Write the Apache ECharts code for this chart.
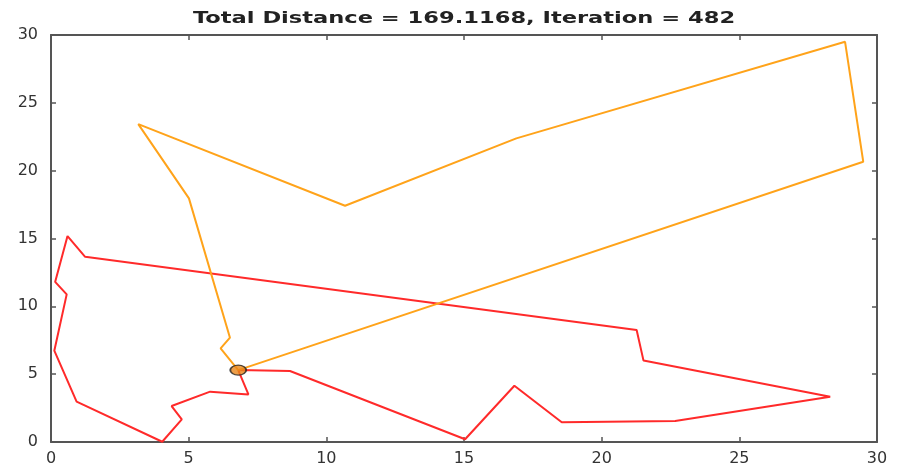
<!DOCTYPE html>
<html>
<head>
<meta charset="utf-8">
<script src="https://cdn.jsdelivr.net/npm/echarts@6/dist/echarts.min.js"></script>
<style>html,body{margin:0;padding:0;background:#fff}#c{width:899px;height:468px}</style>
</head>
<body>
<div id="c"></div>
<script>
const titleText = "Total Distance = 169.1168, Iteration = 482";
const depot = [6.8, 5.3];
const redX = [6.8, 8.68, 15.04, 16.83, 18.55, 22.67, 28.3, 21.52, 21.27, 1.24, 0.6, 0.15, 0.57, 0.12, 0.93, 4.04, 4.75, 4.38, 5.78, 7.17, 6.8];
const redY = [5.3, 5.23, 0.2, 4.15, 1.45, 1.55, 3.34, 6.0, 8.25, 13.65, 15.18, 11.8, 10.88, 6.73, 2.97, 0.02, 1.67, 2.65, 3.71, 3.51, 5.3];
const orangeX = [6.8, 29.5, 28.84, 16.9, 10.68, 3.17, 5.01, 6.5, 6.16, 6.8];
const orangeY = [5.3, 20.66, 29.5, 22.38, 17.41, 23.43, 17.96, 7.69, 6.9, 5.3];
const xTicks = [0, 5, 10, 15, 20, 25, 30];
const yTicks = [0, 5, 10, 15, 20, 25, 30];

const pairs = (xs, ys) => xs.map((x, i) => [x, ys[i]]);
const axisColor = '#555';
const labelStyle = { color: '#333', fontSize: 16, fontFamily: 'DejaVu Sans' };
function mkAxis(pos, showLabel, ticks) {
  return {
    type: 'value', position: pos, min: ticks[0], max: ticks[ticks.length - 1], interval: ticks[1] - ticks[0],
    axisLine: { show: true, onZero: false, lineStyle: { color: axisColor, width: 2 } },
    axisTick: { show: true, inside: true, length: 5, lineStyle: { color: axisColor, width: 1.5 } },
    axisLabel: Object.assign({ show: showLabel, margin: pos === 'left' ? 13 : 9 }, labelStyle),
    splitLine: { show: false }
  };
}
const chart = echarts.init(document.getElementById('c'), null, { renderer: 'canvas' });
chart.setOption({
  animation: false,
  backgroundColor: '#fff',
  graphic: [{
    type: 'text', x: 464, y: 18.5, scaleX: 1.41, z: 10,
    style: { text: titleText, fontFamily: 'DejaVu Sans', fontWeight: 'bold', fontSize: 16, fill: '#222', align: 'center', verticalAlign: 'middle' }
  }],
  grid: { left: 51, right: 22, top: 35, bottom: 26, containLabel: false },
  xAxis: [mkAxis('bottom', true, xTicks), mkAxis('top', false, xTicks)],
  yAxis: [mkAxis('left', true, yTicks), mkAxis('right', false, yTicks)],
  series: [
    { type: 'line', data: pairs(redX, redY), symbol: 'none', lineStyle: { color: '#ff2a2a', width: 2 }, z: 2 },
    { type: 'line', data: pairs(orangeX, orangeY), symbol: 'none', lineStyle: { color: '#ffa31a', width: 2 }, z: 3 },
    { type: 'scatter', data: [depot], symbol: 'circle', symbolSize: [16, 10],
      itemStyle: { color: '#e8861a', borderColor: '#222', borderWidth: 1.5 }, z: 5 }
  ]
});
</script>
</body>
</html>
